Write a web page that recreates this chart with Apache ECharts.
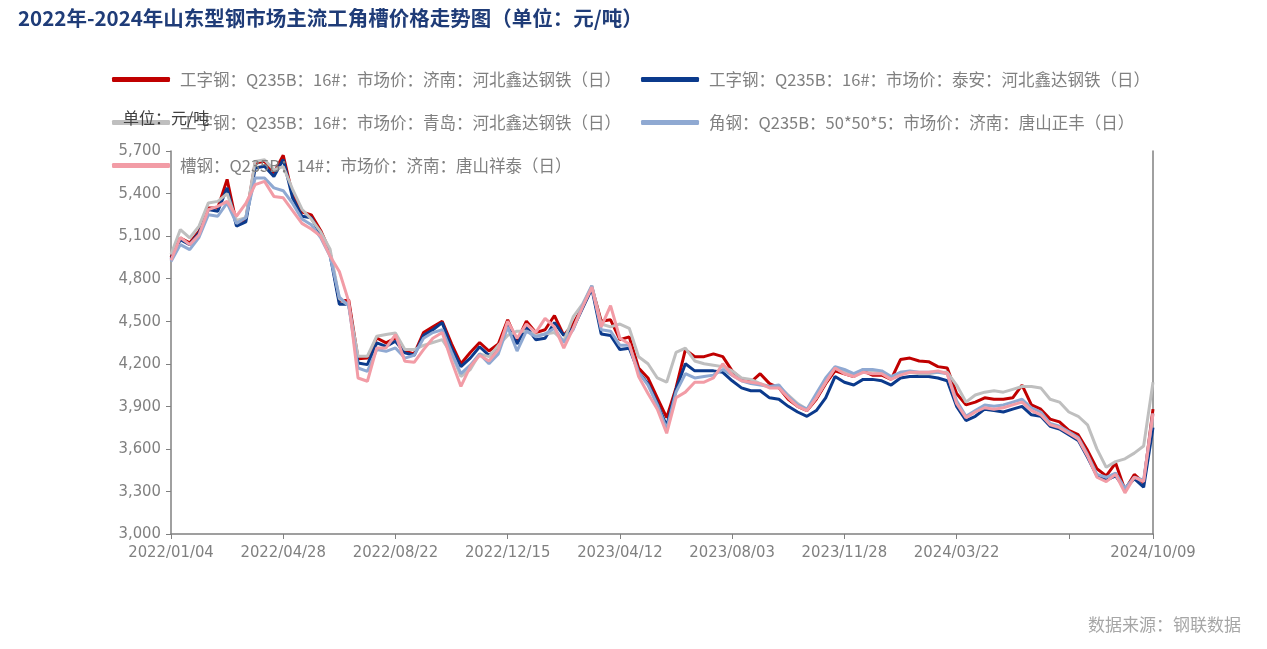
<!DOCTYPE html>
<html>
<head>
<meta charset="utf-8">
<script src="https://cdn.jsdelivr.net/npm/echarts@6/dist/echarts.min.js"></script>
<style>html,body{margin:0;padding:0;background:#fff;}#c{width:1267px;height:649px;}</style>
</head>
<body>
<div id="c"></div>
<script>
var seriesNames = [
  '工字钢：Q235B：16#：市场价：济南：河北鑫达钢铁（日）',
  '工字钢：Q235B：16#：市场价：泰安：河北鑫达钢铁（日）',
  '工字钢：Q235B：16#：市场价：青岛：河北鑫达钢铁（日）',
  '角钢：Q235B：50*50*5：市场价：济南：唐山正丰（日）',
  '槽钢：Q235B：14#：市场价：济南：唐山祥泰（日）'
];
var anchorDates = ['2022/01/04','2022/04/28','2022/08/22','2022/12/15','2023/04/12','2023/08/03','2023/11/28','2024/03/22','2024/07/16','2024/10/09'];
var anchorIndex = [0,12,24,36,48,60,72,84,96,105];
var labelIndex = [0,12,24,36,48,60,72,84,105];
var tickIndex = [0,12,24,36,48,60,72,84,96,105];

var jinanI = [4950,5087,5052,5134,5298,5298,5500,5190,5220,5615,5627,5545,5670,5390,5270,5250,5140,4990,4640,4650,4235,4241,4382,4347,4382,4288,
4270,4420,4460,4500,4340,4200,4280,4350,4290,4340,4510,4360,4500,4420,4440,4540,4400,4480,4600,4740,4500,4510,4370,4390,4170,4100,3960,
3820,4030,4300,4250,4250,4270,4250,4150,4090,4070,4130,4060,4030,3950,3900,3870,3950,4060,4150,4130,4110,4150,4120,4120,4090,
4230,4240,4220,4215,4180,4170,3990,3910,3930,3960,3950,3950,3960,4050,3910,3880,3810,3790,3730,3700,3590,3460,3410,3500,3310,3420,3360,3880];
var taianI = [4940,5075,5040,5122,5287,5275,5440,5170,5200,5580,5592,5520,5640,5370,5240,5230,5110,4970,4620,4620,4206,4194,4347,4323,4359,4277,
4260,4400,4440,4490,4310,4180,4240,4320,4260,4300,4480,4340,4460,4370,4380,4490,4400,4450,4590,4730,4410,4400,4300,4310,4140,4060,3920,
3760,4020,4200,4150,4150,4150,4140,4080,4030,4010,4010,3960,3950,3900,3860,3830,3870,3960,4110,4070,4050,4090,4090,4080,4050,
4100,4110,4110,4110,4100,4080,3900,3800,3830,3880,3870,3860,3880,3900,3840,3830,3760,3740,3700,3660,3540,3410,3380,3410,3320,3390,3330,3750];
var qingdaoI = [4970,5146,5087,5170,5334,5345,5400,5210,5230,5627,5639,5568,5590,5430,5290,5220,5130,5010,4660,4610,4253,4253,4394,4406,4417,4300,
4300,4330,4350,4370,4270,4110,4160,4270,4250,4330,4400,4430,4430,4400,4410,4420,4360,4530,4620,4750,4480,4460,4480,4450,4250,4200,4100,
4070,4280,4310,4220,4200,4190,4180,4150,4100,4090,4060,4040,4040,3980,3920,3880,3960,4070,4170,4140,4120,4160,4150,4140,4100,
4140,4140,4130,4130,4140,4140,4050,3930,3980,4000,4010,4000,4020,4040,4040,4030,3950,3930,3860,3830,3770,3600,3470,3510,3530,3570,3620,4070];
var angleJinan = [4920,5040,5005,5092,5251,5240,5334,5190,5230,5510,5510,5440,5420,5330,5220,5180,5090,4960,4670,4610,4170,4147,4300,4288,4312,4240,
4260,4380,4420,4440,4280,4130,4190,4270,4200,4270,4460,4290,4430,4390,4410,4450,4350,4440,4610,4750,4440,4430,4330,4330,4140,4050,3910,
3740,4000,4130,4100,4110,4120,4160,4120,4080,4060,4050,4040,4050,3970,3910,3880,3990,4100,4180,4160,4130,4160,4160,4150,4110,
4140,4150,4140,4140,4140,4130,3940,3830,3870,3910,3900,3910,3930,3950,3890,3860,3780,3760,3720,3680,3560,3420,3400,3430,3320,3400,3380,3850];
var channelJinan = [4930,5090,5040,5110,5287,5310,5345,5240,5330,5463,5486,5380,5370,5280,5190,5150,5100,4960,4850,4640,4100,4077,4312,4312,4406,4218,
4210,4300,4380,4420,4220,4040,4180,4260,4220,4300,4500,4380,4480,4420,4520,4460,4310,4450,4600,4740,4460,4610,4380,4340,4110,3990,3880,
3710,3960,4000,4070,4070,4100,4200,4120,4080,4070,4060,4030,4030,3960,3900,3870,3960,4070,4170,4130,4110,4140,4130,4130,4090,
4120,4140,4140,4140,4150,4130,3920,3820,3860,3890,3880,3890,3910,3930,3870,3840,3770,3750,3710,3670,3550,3400,3370,3420,3290,3400,3370,3850];

var colors = ['#C00000','#0B3A8C','#BFBFBF','#8FA9D2','#F29CA6'];
var seriesData = [jinanI, taianI, qingdaoI, angleJinan, channelJinan];

function pad(n){return (n<10?'0':'')+n;}
function fmt(d){return d.getFullYear()+'/'+pad(d.getMonth()+1)+'/'+pad(d.getDate());}
var categories = [];
for (var a = 0; a < anchorIndex.length - 1; a++) {
  var d0 = new Date(anchorDates[a].replace(/\//g,'-')+'T00:00:00');
  var d1 = new Date(anchorDates[a+1].replace(/\//g,'-')+'T00:00:00');
  var n = anchorIndex[a+1] - anchorIndex[a];
  for (var k = 0; k < n; k++) {
    if (k === 0) { categories.push(anchorDates[a]); continue; }
    var t = new Date(d0.getTime() + Math.round((d1 - d0) / 86400000 * k / n) * 86400000);
    categories.push(fmt(t));
  }
}
categories.push(anchorDates[anchorDates.length-1]);

var chart = echarts.init(document.getElementById('c'));
var series = seriesNames.map(function(nm, i){
  return {
    name: nm, type: 'line', data: seriesData[i], symbol: 'none', smooth: false,
    lineStyle: {width: 3, color: colors[i]}, itemStyle: {color: colors[i]}
  };
});
chart.setOption({
  backgroundColor: '#fff',
  animation: false,
  title: {
    text: '2022年-2024年山东型钢市场主流工角槽价格走势图（单位：元/吨）',
    left: 13, top: 3,
    textStyle: {fontSize: 20.5, fontWeight: 'bold', color: '#1F3C78', fontFamily: 'Noto Sans CJK SC'}
  },
  legend: {
    left: 107, top: 63, width: 1060, itemGap: 20,
    itemWidth: 58, itemHeight: 5, icon: 'roundRect',
    textStyle: {fontSize: 16.5, color: '#808080', fontFamily: 'Noto Sans CJK SC', lineHeight: 23, padding: [0,0,0,5]},
    data: seriesNames
  },
  graphic: [
    {type: 'text', left: 123, top: 110, z: 100,
     style: {text: '单位：元/吨', fontSize: 16, fill: '#404040', fontFamily: 'Noto Sans CJK SC'}},
    {type: 'text', right: 26, top: 616,
     style: {text: '数据来源：钢联数据', fontSize: 17, fill: '#A6A6A6', fontFamily: 'Noto Sans CJK SC'}}
  ],
  grid: {left: 171, right: 114, top: 151, bottom: 115, containLabel: false},
  xAxis: {
    type: 'category', data: categories, boundaryGap: false,
    axisLine: {lineStyle: {color: '#808080', width: 1.5}},
    axisTick: {show: true, length: 5, lineStyle: {color: '#808080'},
      interval: function(idx){ return tickIndex.indexOf(idx) >= 0; }},
    axisLabel: {
      interval: function(idx){ return labelIndex.indexOf(idx) >= 0; },
      color: '#808080', fontSize: 16.5, margin: 10, fontFamily: 'DejaVu Sans Condensed',
      showMaxLabel: true
    },
    splitLine: {show: false}
  },
  yAxis: [
    {type: 'value', min: 3000, max: 5700, interval: 300,
     axisLine: {show: true, lineStyle: {color: '#808080', width: 1.5}},
     axisTick: {show: true, length: 5, lineStyle: {color: '#808080'}},
     axisLabel: {color: '#808080', fontSize: 16.5, margin: 10, fontFamily: 'DejaVu Sans Condensed',
       formatter: function(v){ return v.toLocaleString('en-US'); }},
     splitLine: {show: false}},
    {type: 'value', min: 3000, max: 5700, interval: 300, position: 'right',
     axisLine: {show: true, lineStyle: {color: '#808080', width: 1.5}},
     axisTick: {show: false}, axisLabel: {show: false}, splitLine: {show: false}}
  ],
  series: series
});
</script>
</body>
</html>
